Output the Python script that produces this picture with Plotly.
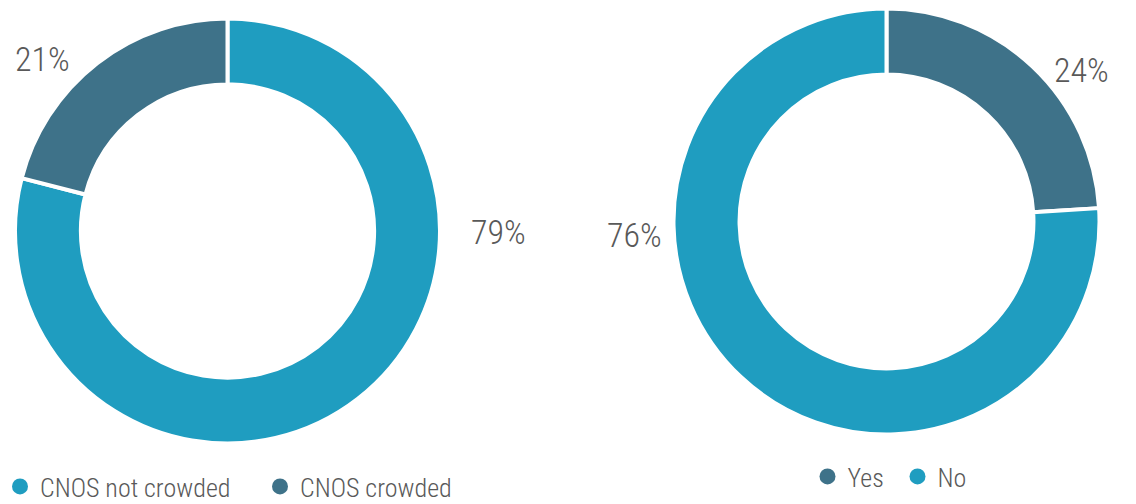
import plotly.graph_objects as go

# Survey results
crowd_labels = ["CNOS not crowded", "CNOS crowded"]
crowd_values = [79, 21]
crowd_colors = ["#1f9dc0", "#3e7289"]

answer_labels = ["Yes", "No"]
answer_values = [24, 76]
answer_colors = ["#3e7289", "#1f9dc0"]

W, H = 1136, 504
FONT = "Roboto Condensed, Liberation Sans Narrow, Arial Narrow, sans-serif"
GREY = "#595959"


def dom(cx, cy, r):
    """Pie domain (paper fractions) for a circle centred at (cx, cy) px with radius r px."""
    cyb = H - cy
    return dict(x=[(cx - r) / W, (cx + r) / W], y=[(cyb - r) / H, (cyb + r) / H])


fig = go.Figure()

fig.add_trace(go.Pie(
    labels=crowd_labels, values=crowd_values, hole=0.69, sort=False,
    direction="clockwise", rotation=0, textinfo="none", hoverinfo="label+percent",
    marker=dict(colors=crowd_colors, line=dict(color="white", width=4)),
    domain=dom(227.5, 231, 212.5), showlegend=False,
))
fig.add_trace(go.Pie(
    labels=answer_labels, values=answer_values, hole=0.69, sort=False,
    direction="clockwise", rotation=0, textinfo="none", hoverinfo="label+percent",
    marker=dict(colors=answer_colors, line=dict(color="white", width=4)),
    domain=dom(886.5, 221.5, 213), showlegend=False,
))

# Legend entries drawn as circular markers
for lab, col in zip(crowd_labels, crowd_colors):
    fig.add_trace(go.Scatter(x=[None], y=[None], mode="markers", name=lab,
                             marker=dict(symbol="circle", size=16, color=col),
                             legend="legend"))
for lab, col in zip(answer_labels, answer_colors):
    fig.add_trace(go.Scatter(x=[None], y=[None], mode="markers", name=lab,
                             marker=dict(symbol="circle", size=16, color=col),
                             legend="legend2"))

# Percentage labels
label_pos = {
    0: [(498, 232), (42, 59)],
    1: [(1081.5, 70), (634, 235)],
}
for vals, key in ((crowd_values, 0), (answer_values, 1)):
    total = sum(vals)
    for v, (px, py) in zip(vals, label_pos[key]):
        fig.add_annotation(
            x=px / W, y=(H - py) / H, xref="paper", yref="paper",
            text=f"{round(100 * v / total)}%", showarrow=False,
            xanchor="center", yanchor="middle",
            font=dict(family=FONT, size=34, color=GREY, weight=300),
        )

leg_common = dict(orientation="h", bgcolor="rgba(0,0,0,0)", borderwidth=0,
                  font=dict(family=FONT, size=26, color=GREY, weight=300),
                  itemsizing="trace", traceorder="normal", entrywidthmode="pixels")
fig.update_layout(
    width=W, height=H,
    margin=dict(l=0, r=0, t=0, b=0, autoexpand=False),
    paper_bgcolor="white", plot_bgcolor="white",
    xaxis=dict(visible=False), yaxis=dict(visible=False),
    legend=dict(x=0.0, y=-6 / H, xanchor="left", yanchor="bottom",
                entrywidth=215, **leg_common),
    legend2=dict(x=807.5 / W, y=4 / H, xanchor="left", yanchor="bottom",
                 entrywidth=45, **leg_common),
)

fig.write_html("out.html")
